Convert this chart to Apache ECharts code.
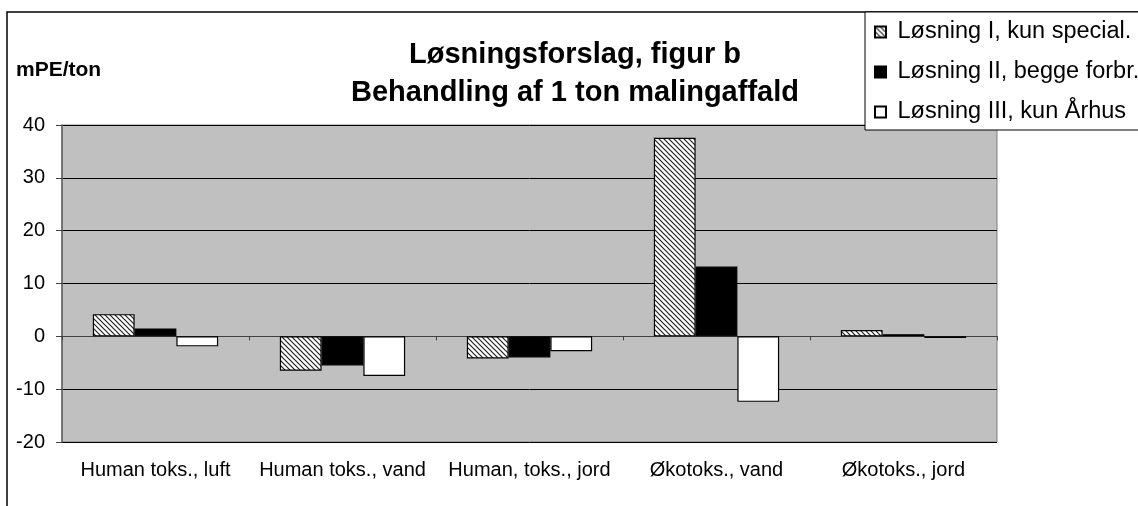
<!DOCTYPE html>
<html>
<head>
<meta charset="utf-8">
<script src="https://cdn.jsdelivr.net/npm/echarts@6/dist/echarts.min.js"></script>
<style>
  html, body { margin: 0; padding: 0; background: #fff; }
  #main { width: 1138px; height: 506px; }
</style>
</head>
<body>
<div id="main"></div>
<script>
// kategorier og værdier (mPE/ton)
var categories = ['Human toks., luft', 'Human toks., vand', 'Human, toks., jord', 'Økotoks., vand', 'Økotoks., jord'];
var seriesNames = ['Løsning I, kun special.', 'Løsning II, begge forbr.', 'Løsning III, kun Århus'];
var loesning1 = [4.2, -6.5, -4.2, 37.6, 1.2];
var loesning2 = [1.5, -5.5, -4.0, 13.2, 0.4];
var loesning3 = [-1.9, -7.5, -2.8, -12.4, -0.3];
var yTicks = { min: -20, max: 40, step: 10 };

// skraveret mønster til løsning I
function hatch() {
    var c = document.createElement('canvas');
    c.width = c.height = 5;
    var g = c.getContext('2d');
    g.fillStyle = '#fff';
    g.fillRect(0, 0, 5, 5);
    g.strokeStyle = '#222';
    g.lineWidth = 1.2;
    g.beginPath();
    g.moveTo(-1, -1); g.lineTo(6, 6);
    g.moveTo(-1, 4); g.lineTo(1, 6);
    g.moveTo(4, -1); g.lineTo(6, 1);
    g.stroke();
    return c;
}

var font = 'Liberation Sans, Arial, sans-serif';
var myChart = echarts.init(document.getElementById('main'));
var option = {
    animation: false,
    textStyle: { fontFamily: font },
    title: [
        {
            text: 'Løsningsforslag, figur b\nBehandling af 1 ton malingaffald',
            left: 570, top: 31, textAlign: 'center',
            textStyle: { fontSize: 29, fontWeight: 'bold', color: '#000', lineHeight: 38, fontFamily: font }
        },
        {
            text: 'mPE/ton', left: 11, top: 54,
            textStyle: { fontSize: 21, fontWeight: 'bold', color: '#000', lineHeight: 22, fontFamily: font }
        }
    ],
    graphic: [
        {
            type: 'rect', z: -1,
            shape: { x: 7, y: 12, width: 1300, height: 700 },
            style: { fill: 'none', stroke: '#000', lineWidth: 1.5 }
        }
    ],
    legend: {
        orient: 'vertical',
        left: 865, top: 12,
        padding: [8, 60, 6, 9],
        itemGap: 16,
        itemWidth: 11, itemHeight: 11,
        icon: 'rect',
        backgroundColor: '#fff',
        borderColor: '#000', borderWidth: 1,
        formatter: function (name) { return ' ' + name; },
        textStyle: { fontSize: 23.5, lineHeight: 24, color: '#000', fontFamily: font },
        data: seriesNames
    },
    grid: {
        left: 62, right: 141, top: 125, bottom: 64,
        show: true, backgroundColor: '#c0c0c0', borderColor: '#808080', borderWidth: 1
    },
    xAxis: [
        {
            type: 'category', data: categories, position: 'bottom',
            axisLine: { show: false, onZero: false },
            axisTick: { show: false },
            axisLabel: { fontSize: 20, color: '#000', margin: 18, interval: 0 }
        },
        {
            type: 'category', data: categories, position: 'bottom',
            axisLine: { onZero: true, lineStyle: { color: '#404040', width: 1 } },
            axisTick: { show: true, inside: false, length: 4, lineStyle: { color: '#404040' } },
            axisLabel: { show: false }
        }
    ],
    yAxis: {
        type: 'value', min: yTicks.min, max: yTicks.max, interval: yTicks.step,
        axisLine: { show: true, lineStyle: { color: '#606060', width: 1.5 } },
        axisTick: { show: true, length: 6, lineStyle: { color: '#404040' } },
        axisLabel: { fontSize: 20, color: '#000', margin: 17 },
        splitLine: { lineStyle: { color: '#000', width: 1 } }
    },
    series: [
        {
            name: seriesNames[0], type: 'bar', data: loesning1,
            barGap: 0, barCategoryGap: '33%',
            itemStyle: { color: { image: hatch(), repeat: 'repeat' }, borderColor: '#000', borderWidth: 1.2 }
        },
        {
            name: seriesNames[1], type: 'bar', data: loesning2,
            barGap: 0, barCategoryGap: '33%',
            itemStyle: { color: '#000', borderColor: '#000', borderWidth: 1.2 }
        },
        {
            name: seriesNames[2], type: 'bar', data: loesning3,
            barGap: 0, barCategoryGap: '33%',
            itemStyle: { color: '#fff', borderColor: '#000', borderWidth: 1.2 }
        }
    ]
};
myChart.setOption(option);
</script>
</body>
</html>
